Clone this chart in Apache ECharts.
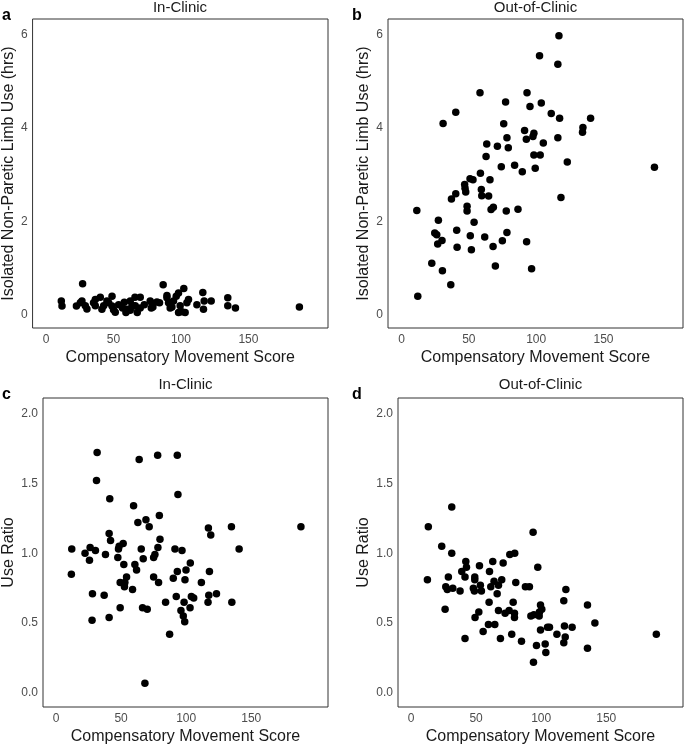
<!DOCTYPE html>
<html>
<head>
<meta charset="utf-8">
<script src="https://cdn.jsdelivr.net/npm/echarts@6/dist/echarts.min.js"></script>
<style>
html,body{margin:0;padding:0;background:#fff;}
#chart{width:685px;height:746px;}
</style>
</head>
<body>
<div id="chart"></div>
<script>
// Panel a: In-Clinic, isolated non-paretic limb use (hrs)
const cmsA = [27.1,86.8,102.1,116.2,98.2,96.5,11.3,11.8,48.9,40.2,36.5,65.9,69.8,134.7,134.7,140.4,187.8,122.4,117.2,116.7,111.8,104.4,105.6,89.6,90.8,92.0,94.5,99.4,98.2,103.1,84.1,78.5,78.0,72.8,69.8,67.6,63.7,60.0,59.2,58.0,53.8,51.3,48.9,46.4,42.7,41.4,36.5,30.3,25.4,22.5,29.1,62.4,64.9,79.2,56.7,62.4,66.1,77.2,82.2,89.6,93.3,100.7,35.2,45.1,26.6,50.0];
const hrsA = [0.66,0.64,0.56,0.47,0.46,0.39,0.29,0.18,0.39,0.37,0.32,0.37,0.37,0.36,0.19,0.14,0.16,0.29,0.29,0.11,0.21,0.25,0.32,0.41,0.25,0.14,0.29,0.19,0.04,0.04,0.25,0.24,0.14,0.21,0.14,0.04,0.19,0.11,0.04,0.26,0.21,0.05,0.18,0.25,0.19,0.11,0.19,0.12,0.25,0.18,0.19,0.29,0.18,0.16,0.14,0.09,0.19,0.29,0.27,0.36,0.16,0.06,0.25,0.29,0.29,0.10];

// Panel b: Out-of-Clinic, isolated non-paretic limb use (hrs)
const cmsB = [116.9,102.5,116.1,93.2,58.3,77.3,95.4,103.8,40.3,111.2,117.4,140.4,30.9,75.9,134.7,134.4,91.4,98.3,97.6,78.3,92.7,116.1,63.3,71.2,105.3,79.3,62.8,98.3,103.0,123.1,74.1,84.0,99.3,187.8,89.7,58.6,50.9,53.1,65.7,46.9,47.2,47.7,59.3,40.3,59.6,64.7,37.1,118.4,11.4,48.7,48.7,68.2,66.5,77.8,86.5,27.4,53.9,24.7,26.2,41.0,51.1,61.8,78.3,26.9,30.1,41.3,51.9,68.0,74.9,92.9,22.5,30.4,69.7,96.6,36.6,12.1];
const hrsB = [5.98,5.55,5.37,4.76,4.76,4.56,4.46,4.54,4.34,4.31,4.21,4.21,4.10,4.09,4.01,3.91,3.95,3.89,3.82,3.79,3.76,3.79,3.66,3.61,3.68,3.58,3.39,3.42,3.42,3.27,3.17,3.20,3.14,3.16,3.06,3.03,2.91,2.89,2.89,2.79,2.71,2.63,2.68,2.59,2.55,2.54,2.48,2.51,2.23,2.32,2.22,2.30,2.25,2.22,2.26,2.02,1.98,1.75,1.71,1.81,1.69,1.66,1.76,1.51,1.59,1.44,1.39,1.46,1.58,1.56,1.10,0.94,1.04,0.98,0.64,0.39];

// Panel c: In-Clinic use ratio
const cmsC = [31.6,31.1,63.9,78.1,93.2,93.7,41.3,59.6,79.4,69.1,62.9,71.6,117.1,134.8,188.2,118.9,40.8,41.9,79.9,51.6,48.5,48.0,78.3,65.5,91.4,96.8,140.7,12.1,26.2,30.3,22.3,38.0,76.0,75.0,25.7,47.5,67.0,60.6,52.1,103.2,61.9,93.2,99.9,11.8,117.9,54.2,75.0,90.1,99.1,111.7,49.3,52.9,78.8,52.6,28.0,37.0,58.8,117.4,123.3,92.4,104.0,105.8,84.2,98.4,116.8,135.1,49.3,66.5,70.1,103.0,96.0,97.8,98.9,27.7,40.8,87.3,68.3];
const ratioC = [1.72,1.52,1.67,1.70,1.70,1.42,1.39,1.34,1.27,1.24,1.22,1.19,1.18,1.19,1.19,1.13,1.14,1.09,1.10,1.07,1.05,1.03,1.04,1.03,1.03,1.02,1.03,1.03,1.04,1.02,1.00,0.99,0.99,0.97,0.95,0.97,0.96,0.92,0.92,0.93,0.88,0.87,0.88,0.85,0.87,0.83,0.83,0.82,0.81,0.79,0.79,0.79,0.79,0.76,0.71,0.70,0.74,0.70,0.71,0.69,0.69,0.68,0.65,0.65,0.65,0.65,0.61,0.61,0.60,0.61,0.59,0.55,0.51,0.52,0.54,0.42,0.07];

// Panel d: Out-of-Clinic use ratio
const cmsD = [31.3,13.3,93.8,23.6,31.3,75.9,79.7,42.1,62.8,70.8,42.6,39.0,52.6,60.3,97.4,12.6,28.7,41.5,49.0,69.7,63.8,49.0,80.5,53.3,67.2,61.3,26.7,27.9,32.1,47.9,48.7,54.1,37.7,66.2,87.9,91.0,119.0,26.2,60.0,78.5,117.4,135.6,99.5,100.5,67.2,72.3,75.4,79.5,79.5,52.1,49.2,92.1,94.4,98.7,98.5,59.5,64.4,141.3,55.4,99.5,104.9,106.4,117.9,123.8,112.1,118.5,77.4,188.5,41.5,68.7,84.9,117.4,96.4,103.1,135.6,103.6,94.1];
const ratioD = [1.33,1.19,1.15,1.05,1.00,0.99,1.00,0.94,0.94,0.93,0.90,0.87,0.91,0.87,0.90,0.81,0.83,0.83,0.83,0.81,0.80,0.81,0.79,0.77,0.77,0.76,0.76,0.74,0.75,0.75,0.73,0.73,0.73,0.71,0.76,0.76,0.74,0.60,0.65,0.65,0.66,0.63,0.63,0.60,0.59,0.57,0.59,0.57,0.54,0.58,0.54,0.55,0.56,0.58,0.55,0.49,0.49,0.50,0.44,0.45,0.47,0.47,0.48,0.47,0.42,0.40,0.42,0.42,0.39,0.39,0.37,0.36,0.34,0.35,0.32,0.29,0.22];

// Tick labels and texts
const xTicks = [0, 50, 100, 150];
const yTicksHrs = [0, 2, 4, 6];
const yTicksRatio = [0, 0.5, 1.0, 1.5, 2.0];
const panelTitles = ['In-Clinic', 'Out-of-Clinic', 'In-Clinic', 'Out-of-Clinic'];
const panelLetters = ['a', 'b', 'c', 'd'];
const xTitle = 'Compensatory Movement Score';
const yTitles = ['Isolated Non-Paretic Limb Use (hrs)', 'Isolated Non-Paretic Limb Use (hrs)', 'Use Ratio', 'Use Ratio'];

const FONT = '"Liberation Sans", Arial, sans-serif';
const grids = [
  {left: 32, top: 19, width: 296, height: 309},
  {left: 388, top: 19, width: 295, height: 309},
  {left: 43, top: 398, width: 285, height: 309},
  {left: 398, top: 398, width: 285, height: 309}
];
const yNameGaps = [14, 16, 26, 26];
const titleY = [8, 8, 385, 385];
const series = [[cmsA, hrsA], [cmsB, hrsB], [cmsC, ratioC], [cmsD, ratioD]];

const option = {
  animation: false,
  backgroundColor: '#ffffff',
  textStyle: {fontFamily: FONT},
  grid: grids.map(g => Object.assign({show: true, borderColor: '#333333', borderWidth: 1, backgroundColor: 'transparent', containLabel: false}, g)),
  xAxis: grids.map((g, i) => ({
    type: 'value', gridIndex: i, min: -10, max: 209,
    name: xTitle, nameLocation: 'middle', nameGap: 22,
    nameTextStyle: {fontFamily: FONT, fontSize: 16, color: '#1a1a1a'},
    axisLine: {show: false}, axisTick: {show: false}, splitLine: {show: false},
    axisLabel: {customValues: xTicks, fontFamily: FONT, fontSize: 12, color: '#4d4d4d', margin: 6}
  })),
  yAxis: grids.map((g, i) => {
    const hrs = i < 2;
    return {
      type: 'value', gridIndex: i,
      min: hrs ? -0.29 : -0.1, max: hrs ? 6.34 : 2.11,
      name: yTitles[i], nameLocation: 'middle', nameGap: yNameGaps[i],
      nameTextStyle: {fontFamily: FONT, fontSize: 16, color: '#1a1a1a'},
      axisLine: {show: false}, axisTick: {show: false}, splitLine: {show: false},
      axisLabel: {
        customValues: hrs ? yTicksHrs : yTicksRatio,
        formatter: v => hrs ? String(v) : Number(v).toFixed(1),
        fontFamily: FONT, fontSize: 12, color: '#4d4d4d', margin: 5
      }
    };
  }),
  series: series.map((s, i) => ({
    type: 'scatter', xAxisIndex: i, yAxisIndex: i,
    symbol: 'circle', symbolSize: 7.5,
    itemStyle: {color: '#000000', opacity: 1},
    data: s[0].map((x, k) => [x, s[1][k]])
  })),
  graphic: grids.map((g, i) => ({
    type: 'text',
    x: g.left + g.width / 2, y: titleY[i],
    style: {text: panelTitles[i], font: '15px ' + FONT, fill: '#1a1a1a', textAlign: 'center', textVerticalAlign: 'middle'}
  })).concat(grids.map((g, i) => ({
    type: 'text',
    x: i % 2 === 0 ? 2 : 352, y: g.top - 3,
    style: {text: panelLetters[i], font: 'bold 16px ' + FONT, fill: '#000000', textAlign: 'left', textVerticalAlign: 'middle'}
  })))
};

const chart = echarts.init(document.getElementById('chart'), null, {renderer: 'canvas'});
chart.setOption(option);
</script>
</body>
</html>
